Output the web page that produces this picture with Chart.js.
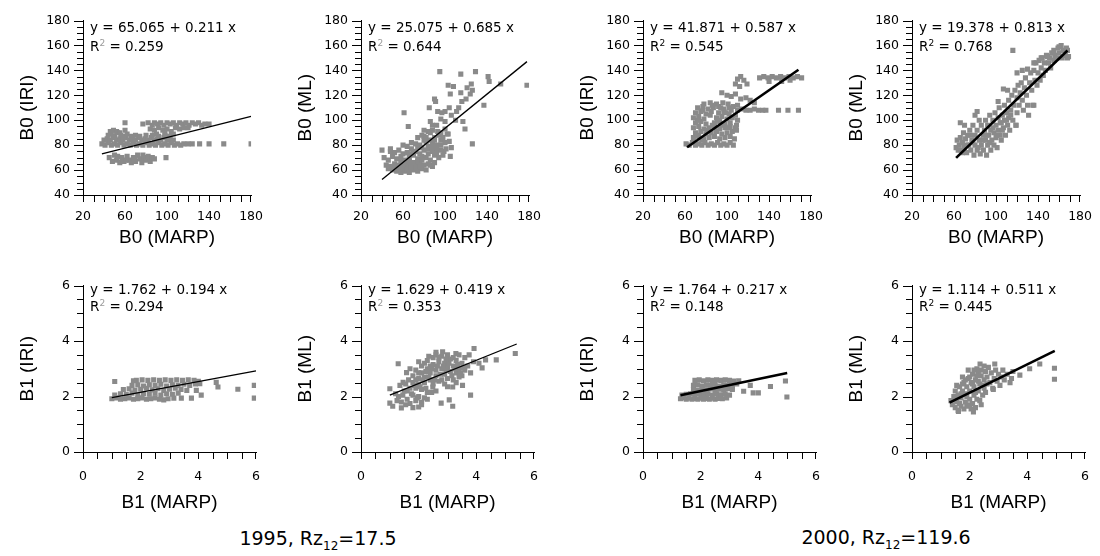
<!DOCTYPE html>
<html>
<head>
<meta charset="utf-8">
<script src="https://cdn.jsdelivr.net/npm/chart.js@4.4.1/dist/chart.umd.min.js"></script>
<style>
  html, body { margin: 0; padding: 0; background: #fff; }
  #wrap { position: relative; width: 1100px; height: 556px; overflow: hidden; background: #fff; }
  .panel { position: absolute; }
  .tk { position: absolute; background: #000; }
  .eq { position: absolute; font-family: 'DejaVu Sans', sans-serif; font-size: 13.5px; color: #000; white-space: pre; }
  .eq sup { font-size: 9px; line-height: 0; }
  .foot { position: absolute; width: 320px; text-align: center; font-family: 'DejaVu Sans', sans-serif; font-size: 19px; color: #000; white-space: pre; }
  .foot sub { font-size: 12px; line-height: 0; }
</style>
</head>
<body>
<div id="wrap"></div>
<script>
// ---------------- data ----------------
const yTitles = ['B0 (IRI)', 'B0 (ML)', 'B0 (IRI)', 'B0 (ML)', 'B1 (IRI)', 'B1 (ML)', 'B1 (IRI)', 'B1 (ML)'];
const xTitles = ['B0 (MARP)', 'B0 (MARP)', 'B0 (MARP)', 'B0 (MARP)', 'B1 (MARP)', 'B1 (MARP)', 'B1 (MARP)', 'B1 (MARP)'];
const intercepts = [65.065, 25.075, 41.871, 19.378, 1.762, 1.629, 1.764, 1.114];
const slopes = [0.211, 0.685, 0.587, 0.813, 0.194, 0.419, 0.217, 0.511];
const r2Values = ['0.259', '0.644', '0.545', '0.768', '0.294', '0.353', '0.148', '0.445'];
const fitRanges = [[38, 180], [40, 178], [62, 168], [62, 168], [1, 6], [1, 5.4], [1.3, 5], [1.3, 4.95]];

const b0TickLabels = [40, 60, 80, 100, 120, 140, 160, 180];
const b0XTickLabels = [20, 60, 100, 140, 180];
const b1TickLabels = [0, 2, 4, 6];

const footerYears = ['1995', '2000'];
const footerRz = ['17.5', '119.6'];

const p1 = [
  [60,98],[77,97],[82,98],[86,96],[88,98],[91,97],[94,98],[97,96],[100,98],[103,97],[106,98],[109,96],[112,98],[115,97],[118,98],[121,96],[124,98],[127,97],[130,98],[133,96],[136,97],[140,97],
  [84,93],[88,92],[92,94],[96,92],[100,93],[104,91],[108,94],[112,93],[116,94],[120,94],[90,89],[98,90],[106,89],[60,92],
  [38,81],[41,80],[44,82],[47,80],[50,81],[53,80],[56,82],[59,80],[62,81],[65,80],[68,82],[71,80],[74,81],[77,80],[80,82],[83,80],[86,81],[89,80],[92,82],[95,80],[98,81],[101,80],[104,82],[107,80],[110,81],[113,80],[116,81],
  [40,84],[43,85],[46,84],[49,86],[52,84],[55,85],[58,84],[61,86],[64,84],[67,85],[70,84],[73,86],[76,84],[79,85],[82,84],[85,86],[88,84],[91,85],[94,84],[97,86],[100,84],[103,85],[106,84],
  [44,88],[47,89],[50,87],[53,90],[56,88],[59,87],[62,89],[66,87],[70,88],[74,87],[80,88],[86,88],[92,87],[98,88],[102,87],
  [46,91],[49,92],[52,91],[55,90],
  [120,81],[124,81],[131,81],[140,81],[154,81],[180,81],
  [45,70],[48,67],[50,72],[52,68],[55,66],[57,70],[59,67],[62,71],[64,68],[66,66],[68,70],[70,67],[72,72],[74,69],[76,66],[78,70],[80,68],[82,71],[84,67],[86,70],[88,69],[99,70],[53,71],[61,68],[69,69],[77,72]
];
const p2 = [
  [95,139],[115,137],[129,139],[141,135],[142,131],[153,129],[178,128],[103,128],[108,127],[125,129],[121,126],[126,124],[105,121],[115,122],[124,121],[90,117],[91,115],[116,115],[120,117],[137,112],[61,106],[85,110],[93,107],[97,106],[100,107],[111,107],[106,104],[86,99],[65,95],[100,99],[117,99],[119,93],[100,93],[103,89],[84,91],[88,92],[93,91],[80,87],[126,81],[106,78],[99,75],[105,71],[40,76],[48,77],[110,100],[113,110],[96,101],[104,110],
  [50,60],[54,59],[58,58],[62,59],[66,58],[70,60],[74,59],[78,61],[82,60],
  [44,64],[48,63],[52,65],[56,64],[60,66],[64,63],[68,65],[72,64],[76,66],[80,64],[84,65],[88,63],
  [42,70],[46,68],[50,71],[54,69],[58,71],[62,68],[66,70],[70,72],[74,69],[78,71],[82,70],[86,68],[90,72],[94,70],
  [48,75],[52,74],[56,76],[60,73],[64,74],[68,77],[72,75],[76,73],[80,76],[84,77],[88,75],[92,74],[96,76],
  [60,80],[64,79],[68,82],[72,81],[76,80],[80,84],[84,79],[88,82],[92,80],[96,84],[100,82],
  [74,86],[78,88],[82,86],[86,90],[90,86],[94,88],[98,86],[102,89],
  [86,64],[90,66],[98,72],[101,77],[104,83],[96,90],[80,92],[88,96],[92,96],
  [46,61],[52,62],[56,61],[60,62],[64,61],[68,62],[72,62],[76,63],[58,67],[62,66],[66,67],[70,66],[74,67],[78,68],[66,73],[70,74],[74,78],[78,78],[82,82],[86,84],[90,84],[84,73],[88,78],[92,78],[96,80]
];
const p3 = [
  [61,81],[64,80],[67,82],[70,80],[73,81],[76,80],[79,82],[82,80],[85,81],[88,80],[91,82],[94,80],[97,81],[100,80],[103,82],[106,80],
  [68,86],[73,87],[78,85],[83,86],[88,87],[93,85],[98,86],[103,87],[107,85],
  [70,90],[75,91],[80,89],[85,90],[90,91],[95,89],[100,90],[105,91],
  [68,94],[73,95],[78,93],[83,94],[88,95],[93,93],[98,94],[103,95],[108,94],
  [70,98],[75,99],[80,97],[88,98],[93,99],[98,97],[103,98],
  [68,102],[73,103],[78,101],[90,102],[95,103],[100,101],[105,102],
  [70,106],[75,107],[80,105],[85,107],[92,106],[97,107],[102,105],
  [72,110],[77,111],[82,109],[87,110],[92,111],[97,109],[102,110],[106,111],
  [78,113],[84,114],[90,113],[96,114],[101,113],
  [110,108],[114,109],[118,108],[122,108],[126,109],[130,108],[134,108],[137,108],[149,108],[158,108],[168,108],
  [131,134],[135,135],[139,134],[143,135],[147,134],[151,135],[155,134],[159,135],[163,134],[167,135],[171,134],[140,131],[152,131],[160,132],
  [108,129],[110,133],[113,135],[116,132],[119,129],[112,127],
  [95,122],[100,120],[104,119],[108,121],[113,117],[118,118],[122,116],[126,114],[110,112],
  [109,92],[109,96],[110,100],[108,104],
  [71,88],[76,84],[81,92],[86,96],[91,100],[84,104],[77,108],[72,100],[86,112],[95,96],[101,94],[99,106],[104,108],[94,110]
];
const p4 = [
  [62,78],[63,84],[65,80],[66,86],[67,76],[68,82],[69,90],[70,78],[71,85],[72,74],[73,88],[74,80],[75,92],[76,76],[77,84],[78,96],[79,72],[80,80],[80,88],[82,76],[82,92],[84,84],[84,100],[85,73],[86,80],[86,96],[88,88],[88,76],[89,92],[90,84],[90,100],[91,72],[92,80],[92,96],[93,88],[94,104],[95,76],[95,92],[96,84],[97,100],[98,80],[98,90],[99,106],[100,86],[100,96],[101,78],[102,102],[102,92],[103,110],[104,88],[104,98],[105,84],[106,104],[107,94],[108,100],[108,112],[109,88],[110,106],[111,96],[112,116],[112,102],[113,92],[114,108],[115,120],[116,100],[117,112],[118,124],[119,96],[120,106],[120,118],[121,128],[122,112],[123,122],[124,130],[125,116],[126,108],[127,126],[128,134],[129,120],[130,112],[131,104],[132,130],[133,138],[134,124],[135,112],[136,140],[137,132],[138,146],[139,128],[140,138],[141,148],[142,132],[143,142],[144,150],[145,136],[146,146],[147,140],[148,152],[150,146],[151,150],[152,142],[153,154],[155,148],[156,152],[158,150],[159,158],[160,154],[162,160],[163,150],[164,156],[166,152],[167,158],[168,150],
  [116,156],[66,98],[70,96],[80,104],[82,107],
  [136,146],[143,150],[149,151],[155,156],[160,159],[168,156],[169,151],[136,112],[119,96],[102,115],[120,138],[125,140],[130,141],[107,125],[111,124],
  [64,76],[68,74],[72,80],[76,88],[78,82],[83,78],[87,84],[91,88],[94,82],[97,94],[101,88],[105,98],[106,92],[110,100],[114,104]
];
const p5 = [
  [1.0,1.92],[1.15,1.95],[1.3,1.9],[1.45,1.92],[1.6,1.95],[1.75,1.9],[1.9,1.92],[2.05,1.95],[2.2,1.9],[2.35,1.92],[2.5,1.95],[2.65,1.9],[2.8,1.88],[2.95,1.92],[3.15,1.94],
  [1.1,2.05],[1.3,2.1],[1.5,2.08],[1.7,2.12],[1.9,2.05],[2.1,2.1],[2.3,2.08],[2.5,2.12],[2.7,2.05],[2.9,2.1],[3.1,2.08],[3.3,2.12],
  [1.4,2.25],[1.6,2.28],[1.8,2.22],[2.0,2.26],[2.2,2.3],[2.4,2.24],[2.6,2.28],[2.8,2.22],[3.0,2.26],[3.2,2.3],[3.4,2.25],[3.6,2.22],
  [1.7,2.4],[1.9,2.42],[2.1,2.38],[2.3,2.42],[2.5,2.4],[2.7,2.44],[2.9,2.38],[3.1,2.42],[3.3,2.4],[3.5,2.44],[3.7,2.4],[3.9,2.45],
  [1.85,2.58],[2.05,2.6],[2.25,2.58],[2.45,2.6],[2.65,2.58],[2.85,2.6],[3.05,2.58],[3.25,2.6],[3.45,2.58],[3.65,2.6],[3.85,2.58],[4.0,2.55],
  [1.1,2.54],[1.75,2.57],[4.05,2.46],[4.62,2.51],[4.68,2.34],[5.37,2.26],[5.94,2.4],[5.94,1.94],[3.41,1.94],[3.76,1.94],[4.1,2.05],[3.93,2.22]
];
const p6 = [
  [1.29,3.18],[1.0,2.28],[1.0,1.76],[1.1,1.65],[1.4,1.59],[1.8,1.6],[2.0,1.62],[2.1,1.7],[1.46,2.51],[1.58,2.86],[2.6,3.59],[2.83,3.61],[3.29,3.55],[3.75,3.5],[3.92,3.73],[4.69,3.32],[4.09,3.2],[5.35,3.55],[4.32,3.32],[4.2,3.03],[3.52,2.4],[3.8,2.05],[3.18,2.34],[2.78,1.76],[3.18,1.65],[3.06,1.88],[2.49,2.34],
  [1.3,2.0],[1.4,1.8],[1.5,2.2],[1.6,1.9],[1.7,2.3],[1.7,1.75],[1.8,2.05],[1.9,1.85],[1.9,2.3],[2.0,2.0],[2.1,1.8],[2.1,2.25],[2.2,1.95],[2.3,2.15],[1.55,2.45],[1.65,2.6],[1.8,2.5],[2.0,2.45],[2.2,2.5],[1.35,2.4],[1.2,2.1],[1.25,1.85],
  [1.8,2.75],[1.9,2.95],[2.0,2.65],[2.1,2.85],[2.1,3.1],[2.2,2.7],[2.3,3.0],[2.3,3.3],[2.4,2.6],[2.4,2.85],[2.5,3.15],[2.5,3.4],[2.6,2.75],[2.6,2.95],[2.7,3.25],[2.7,2.55],[2.8,3.0],[2.8,3.45],[2.9,2.8],[2.9,3.2],[3.0,2.65],[3.0,3.05],[3.1,3.35],[3.1,2.9],[3.2,3.1],[3.2,2.6],[3.3,2.85],[3.3,3.3],[3.4,3.0],[3.5,2.75],[3.5,3.2],[3.6,2.95],[3.6,3.4],[3.7,3.1],[2.2,3.2],[2.4,3.1],[2.6,3.5],[3.0,3.5],[3.4,3.5],[2.0,3.25],[1.7,3.0],[3.8,2.85],[3.9,3.25],[2.5,2.45],[2.9,2.45],[3.3,2.5],
  [1.9,2.6],[2.0,2.85],[2.15,2.6],[2.25,2.9],[2.35,2.7],[2.45,3.0],[2.55,2.6],[2.65,3.1],[2.75,2.8],[2.85,3.1],[2.95,2.95],[3.05,3.2],[3.15,2.75],[3.25,3.0],[3.35,3.15],[3.45,2.85],[3.55,3.05],[2.05,2.35],[2.25,2.3],[2.45,2.15],[1.6,2.2],[1.75,2.1],[1.85,2.4],[1.45,2.05],[1.55,1.7],[1.95,1.95],[2.3,1.9],[2.6,2.2],[2.8,2.6],[3.4,2.7],[3.0,2.35],[2.7,3.4],[2.95,3.35],[3.2,3.4],[2.35,3.45]
];
const p7 = [
  [1.3,1.92],[1.4,1.95],[1.5,1.9],[1.6,1.94],[1.7,1.9],[1.8,1.93],[1.9,1.9],[2.0,1.94],[2.1,1.9],[2.2,1.93],[2.3,1.9],[2.4,1.94],[2.5,1.9],[2.6,1.93],[2.75,1.92],[2.9,1.95],
  [1.35,2.05],[1.5,2.08],[1.65,2.1],[1.8,2.06],[1.95,2.1],[2.1,2.07],[2.25,2.1],[2.4,2.05],[2.55,2.1],[2.7,2.06],[2.85,2.1],[3.0,2.05],
  [1.75,2.25],[1.9,2.22],[2.05,2.26],[2.2,2.24],[2.35,2.27],[2.5,2.22],[2.65,2.26],[2.8,2.24],[2.95,2.28],[3.1,2.25],
  [1.75,2.4],[1.9,2.42],[2.05,2.38],[2.2,2.42],[2.35,2.4],[2.5,2.43],[2.65,2.38],[2.8,2.42],[2.95,2.4],[3.1,2.38],
  [1.8,2.58],[1.95,2.6],[2.1,2.57],[2.25,2.6],[2.4,2.58],[2.55,2.6],[2.7,2.58],[2.85,2.6],[3.0,2.58],[3.15,2.56],
  [3.49,2.19],[3.72,2.4],[3.82,2.13],[4.0,2.13],[4.42,2.36],[4.94,2.56],[4.99,1.98],[3.32,2.57],[3.09,2.3],[3.25,2.45]
];
const p8 = [
  [1.35,1.85],[1.4,1.7],[1.45,2.0],[1.5,1.6],[1.5,2.2],[1.55,1.8],[1.6,2.05],[1.6,1.5],[1.65,2.35],[1.7,1.65],[1.7,1.95],[1.75,2.2],[1.8,1.55],[1.8,2.5],[1.85,1.8],[1.85,2.1],[1.9,2.35],[1.9,1.65],[1.95,2.65],[2.0,1.9],[2.0,2.2],[2.05,2.5],[2.05,1.55],[2.1,1.75],[2.1,2.8],[2.15,2.05],[2.15,2.35],[2.2,1.6],[2.2,2.6],[2.25,1.9],[2.3,2.2],[2.3,2.9],[2.35,2.45],[2.4,1.7],[2.4,2.75],[2.45,2.05],[2.5,2.3],[2.5,2.6],[2.55,2.9],[2.6,2.45],[1.61,1.46],[2.13,1.44],[1.75,2.7],[1.95,2.95],[2.25,3.0],[1.5,1.9],
  [2.6,2.7],[2.65,3.05],[2.7,2.5],[2.75,2.85],[2.8,2.3],[2.85,2.65],[2.87,3.17],[2.9,2.95],[2.95,2.55],[3.0,2.8],[3.05,2.4],[3.1,2.7],[3.15,2.95],[3.2,2.6],[3.3,2.8],[3.4,2.5],[3.45,2.65],[3.5,2.9],[2.36,3.17],[2.5,3.1],[2.82,2.25],
  [3.74,2.77],[4.08,3.0],[4.43,3.17],[4.94,3.02],[4.94,2.62],
  [1.55,2.4],[1.65,1.75],[1.75,2.45],[1.85,2.6],[1.9,2.0],[2.0,2.7],[2.1,2.45],[2.2,2.15],[2.3,2.55],[2.35,1.85],[2.45,2.4],[2.55,2.15],[2.0,1.7],[1.7,2.1],[2.25,2.75],[2.4,2.95],[2.15,2.95]
];
const panelPoints = [p1, p2, p3, p4, p5, p6, p7, p8];

// ---------------- layout ----------------
const axisX = [83, 361, 643, 912];
const PLOT_W = 174;
const rowCfg = [
  { top: 20, plotH: 175, xH: 54, xMin: 20, xMax: 180, xStep: 10, xLabels: b0XTickLabels, yMin: 40, yMax: 180, yStep: 5, yLabels: b0TickLabels, xPad: 14, eqTop: 17.5, eqLH: 19 },
  { top: 285, plotH: 167, xH: 62, xMin: 0, xMax: 6, xStep: 0.5, xLabels: b1TickLabels, yMin: 0, yMax: 6, yStep: 0.5, yLabels: b1TickLabels, xPad: 17, eqTop: 280.5, eqLH: 17 }
];
const Y_W = 83, PAD_TOP = 20, PAD_RIGHT = 20, PAD_BOTTOM = 2;
const wrap = document.getElementById('wrap');

function labelCb(labels) {
  return function (v) {
    for (const l of labels) if (Math.abs(l - v) < 1e-6) return String(l);
    return '';
  };
}

function addTick(left, top, w, h) {
  const d = document.createElement('div');
  d.className = 'tk';
  d.style.left = left + 'px';
  d.style.top = top + 'px';
  d.style.width = w + 'px';
  d.style.height = h + 'px';
  wrap.appendChild(d);
}

for (let i = 0; i < 8; i++) {
  const row = i < 4 ? 0 : 1;
  const col = i % 4;
  const rc = rowCfg[row];
  const is2000 = col >= 2;
  const W = Y_W + PLOT_W + PAD_RIGHT;
  const H = PAD_TOP + rc.plotH + rc.xH + PAD_BOTTOM;
  const panelLeft = axisX[col] - Y_W;
  const panelTop = rc.top - PAD_TOP;
  const div = document.createElement('div');
  div.className = 'panel';
  div.style.left = panelLeft + 'px';
  div.style.top = panelTop + 'px';
  div.style.width = W + 'px';
  div.style.height = H + 'px';
  const cv = document.createElement('canvas');
  cv.width = W; cv.height = H;
  cv.style.width = W + 'px'; cv.style.height = H + 'px';
  div.appendChild(cv);
  wrap.appendChild(div);

  const a = intercepts[i], b = slopes[i];
  const [x0, x1] = fitRanges[i];
  const linePts = [{ x: x0, y: a + b * x0 }, { x: x1, y: a + b * x1 }];
  const pts = panelPoints[i].map(p => ({ x: p[0], y: p[1] }));

  const tickFont = { family: 'DejaVu Sans', size: 12.5 };
  const titleFont = { family: 'Liberation Sans', size: 19 };

  const chart = new Chart(cv, {
    type: 'scatter',
    data: {
      datasets: [
        { data: linePts, showLine: true, borderColor: '#000', borderWidth: is2000 ? 2.6 : 1.3, pointRadius: 0, order: 0 },
        { data: pts, pointStyle: 'rect', pointRadius: 3.6, backgroundColor: '#8a8a8a', borderWidth: 0, order: 1 }
      ]
    },
    options: {
      responsive: false,
      animation: false,
      devicePixelRatio: 1,
      events: [],
      layout: { padding: { left: 0, right: PAD_RIGHT, top: PAD_TOP, bottom: PAD_BOTTOM } },
      plugins: { legend: { display: false }, tooltip: { enabled: false } },
      scales: {
        x: {
          type: 'linear', position: 'bottom', min: rc.xMin, max: rc.xMax,
          afterFit: s => { s.height = rc.xH; },
          ticks: { stepSize: rc.xStep, autoSkip: false, maxRotation: 0, color: '#000', font: tickFont, padding: rc.xPad, callback: labelCb(rc.xLabels) },
          grid: { display: false, drawTicks: false, tickLength: 0 },
          border: { display: true, color: '#000', width: 1 },
          title: { display: true, text: xTitles[i], color: '#000', font: titleFont, padding: { top: 0, bottom: 0 } }
        },
        y: {
          type: 'linear', position: 'left', min: rc.yMin, max: rc.yMax,
          afterFit: s => { s.width = Y_W; },
          ticks: { stepSize: rc.yStep, autoSkip: false, color: '#000', font: tickFont, padding: 13, callback: labelCb(rc.yLabels) },
          grid: { display: false, drawTicks: false, tickLength: 0 },
          border: { display: true, color: '#000', width: 1 },
          title: { display: true, text: yTitles[i], color: '#000', font: titleFont, padding: { top: 16, bottom: 0 } }
        }
      }
    }
  });

  // outside tick marks, placed from the chart's own scales
  const ca = chart.chartArea;
  const xs = chart.scales.x, ys = chart.scales.y;
  const axisRow = Math.round(ca.bottom);
  const axisCol = Math.round(ca.left);
  xs.ticks.forEach(t => {
    const px = Math.min(Math.round(xs.getPixelForValue(t.value)), Math.round(ca.right) - 1);
    addTick(panelLeft + px, panelTop + axisRow + 1, 1, 6);
  });
  ys.ticks.forEach(t => {
    const py = Math.min(Math.round(ys.getPixelForValue(t.value)), axisRow);
    const len = t.label ? 9 : 6;
    addTick(panelLeft + axisCol - len, panelTop + py, len, 1);
  });

  // regression equation text
  const eq = document.createElement('div');
  eq.className = 'eq';
  eq.style.left = (axisX[col] + 7) + 'px';
  eq.style.top = rc.eqTop + 'px';
  eq.style.lineHeight = rc.eqLH + 'px';
  const supStyle = is2000 ? '' : ' style="color:#9a9a9a"';
  eq.innerHTML = 'y = ' + a.toFixed(3) + ' + ' + b.toFixed(3) + ' x<br>R<sup' + supStyle + '>2</sup> = ' + r2Values[i];
  wrap.appendChild(eq);
}

// footers
const footCenters = [[318, 538], [886, 537]];
for (let k = 0; k < 2; k++) {
  const f = document.createElement('div');
  f.className = 'foot';
  f.style.left = (footCenters[k][0] - 160) + 'px';
  f.style.top = (footCenters[k][1] - 13) + 'px';
  f.style.lineHeight = '26px';
  f.innerHTML = footerYears[k] + ', Rz<sub>12</sub>=' + footerRz[k];
  wrap.appendChild(f);
}
</script>
</body>
</html>
